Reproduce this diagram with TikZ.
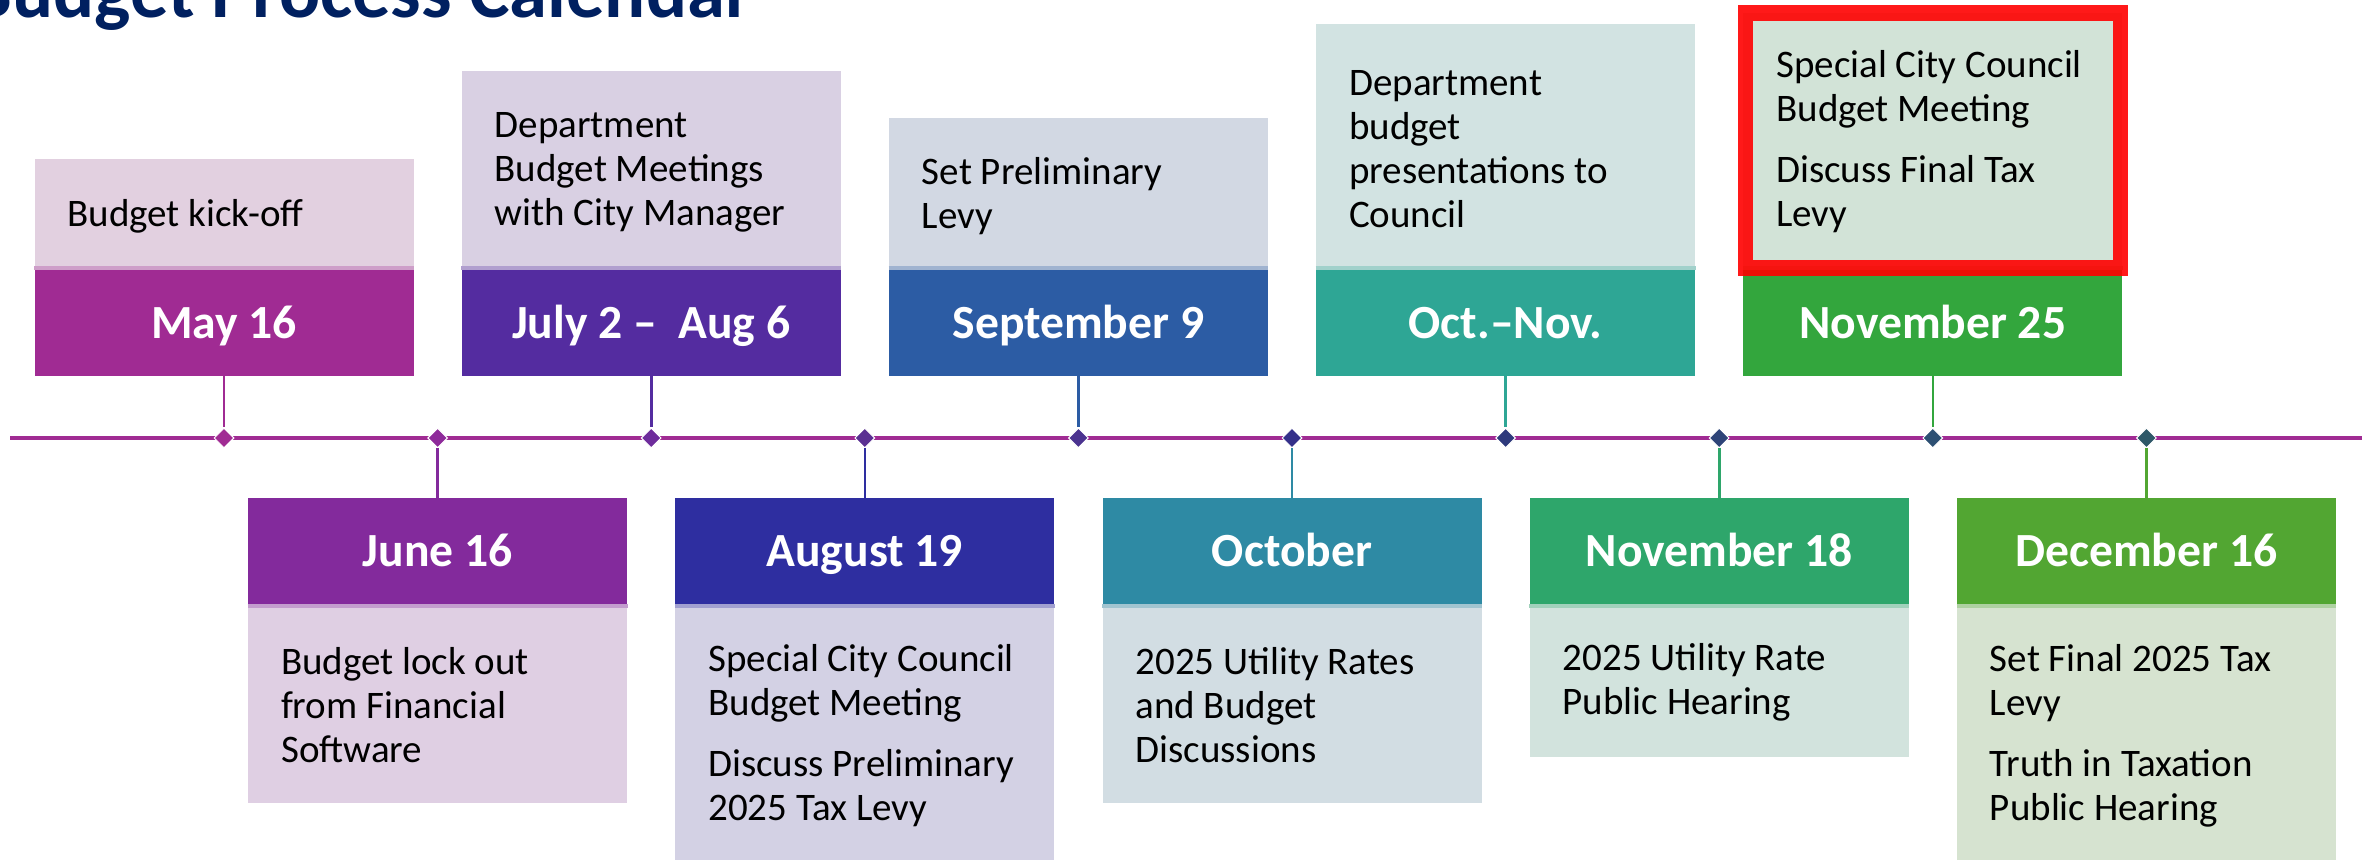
\documentclass[tikz,border=0pt]{standalone}
\usepackage{fontspec}
\setmainfont{Carlito}
\usetikzlibrary{shapes.geometric}
\definecolor{titleblue}{HTML}{002060}
\definecolor{tline}{HTML}{A02B93}
\definecolor{hlred}{HTML}{FF0000}
% dark parts
\definecolor{dA}{HTML}{A02B93}
\definecolor{dB}{HTML}{832A9C}
\definecolor{dC}{HTML}{542CA0}
\definecolor{dD}{HTML}{2E2EA0}
\definecolor{dE}{HTML}{2C5CA4}
\definecolor{dF}{HTML}{2E8AA4}
\definecolor{dG}{HTML}{2EA695}
\definecolor{dH}{HTML}{2EA66B}
\definecolor{dI}{HTML}{33A63D}
\definecolor{dJ}{HTML}{52A632}
% light parts
\definecolor{lA}{HTML}{E2D0E0}
\definecolor{lB}{HTML}{DFCFE3}
\definecolor{lC}{HTML}{D9D0E3}
\definecolor{lD}{HTML}{D3D1E4}
\definecolor{lE}{HTML}{D2D8E3}
\definecolor{lF}{HTML}{D2DDE3}
\definecolor{lG}{HTML}{D2E3E2}
\definecolor{lH}{HTML}{D2E3DD}
\definecolor{lI}{HTML}{D2E3D7}
\definecolor{lJ}{HTML}{D6E3D0}
% diamonds
\definecolor{mA}{HTML}{A02B93}
\definecolor{mB}{HTML}{8E2A9A}
\definecolor{mC}{HTML}{6E2C9C}
\definecolor{mD}{HTML}{5A3092}
\definecolor{mE}{HTML}{4B3390}
\definecolor{mF}{HTML}{34308A}
\definecolor{mG}{HTML}{2E3A7C}
\definecolor{mH}{HTML}{2E4478}
\definecolor{mI}{HTML}{2D5073}
\definecolor{mJ}{HTML}{2E5868}
\begin{document}
\begin{tikzpicture}[x=0.5pt,y=-0.5pt,
  datebox/.style={rectangle, inner sep=0pt, minimum width=189.5pt, minimum height=53pt,
    text height=15.3pt, text depth=0pt,
    text=white, font=\fontsize{23.8}{27}\selectfont\bfseries},
  lightbox/.style={rectangle, inner sep=0pt, minimum width=189.5pt},
  infotext/.style={anchor=west, inner sep=0pt, align=left, text=black,
    font=\fontsize{19.5}{22}\selectfont},
  dia/.style={shape=diamond, inner sep=0pt, minimum width=10pt, minimum height=10pt,
    draw=white, line width=0.5pt},
  conn/.style={line width=1.3pt},
  timeline/.style={line width=2.15pt, color=tline},
  strip/.style={line width=2pt},
  highlight/.style={draw=hlred, draw opacity=0.9, line width=7.8pt, rectangle, inner sep=0pt,
    minimum width=187.5pt, minimum height=127.5pt}
]
\useasboundingbox (0,0) rectangle (2376,860);
\clip (0,0) rectangle (2376,860);

% title
\node[anchor=base west, inner sep=0pt, text=titleblue,
  font=\fontsize{38.3}{41}\selectfont\bfseries] (title) at (-31,18) {Budget Process Calendar};

% timeline
\coordinate (tlL) at (10,438);
\coordinate (tlR) at (2362,438);
\draw[timeline] (tlL) -- (tlR);

% ---------- top boxes ----------
\node[lightbox, fill=lA, minimum height=55.5pt] (l0) at (224,214.5) {};
\node[infotext] (t0) at ([xshift=16.5pt,yshift=-1pt]l0.west) {Budget kick-off};
\node[datebox, fill=dA] (d0) at (224,323) {May 16};

\node[lightbox, fill=lC, minimum height=99.5pt] (l2) at (651.2,170.5) {};
\node[infotext] (t2) at ([xshift=16.5pt,yshift=-1pt]l2.west) {Department\\Budget Meetings\\with City Manager};
\node[datebox, fill=dC] (d2) at (651.2,323) {July 2 –\ \ Aug 6};

\node[lightbox, fill=lE, minimum height=76pt] (l4) at (1078.4,194) {};
\node[infotext] (t4) at ([xshift=16.5pt,yshift=-1pt]l4.west) {Set Preliminary\\Levy};
\node[datebox, fill=dE] (d4) at (1078.4,323) {September 9};

\node[lightbox, fill=lG, minimum height=123pt] (l6) at (1505.6,147) {};
\node[infotext] (t6) at ([xshift=16.5pt,yshift=-1pt]l6.west) {Department\\budget\\presentations to\\Council};
\node[datebox, fill=dG] (d6) at (1505.6,323) {Oct.–Nov.};

\node[lightbox, fill=lI, minimum height=128.5pt] (l8) at (1932.8,141.5) {};
\node[infotext] (t8) at ([xshift=16.5pt]l8.west)
  {Special City Council\\Budget Meeting\\[8.5pt]Discuss Final Tax\\Levy};
\node[datebox, fill=dI] (d8) at (1932.8,323) {November 25};

% ---------- bottom boxes ----------
\node[datebox, fill=dB] (d1) at (437.6,551) {June 16};
\node[lightbox, fill=lB, minimum height=99.5pt] (l1) at (437.6,703.5) {};
\node[infotext] (t1) at ([xshift=16.5pt,yshift=-1pt]l1.west) {Budget lock out\\from Financial\\Software};

\node[datebox, fill=dD] (d3) at (864.8,551) {August 19};
\node[lightbox, fill=lD, minimum height=130pt] (l3) at (864.8,734) {};
\node[infotext] (t3) at ([xshift=16.5pt,yshift=-1pt]l3.west)
  {Special City Council\\Budget Meeting\\[8.5pt]Discuss Preliminary\\2025 Tax Levy};

\node[datebox, fill=dF] (d5) at (1292,551) {October};
\node[lightbox, fill=lF, minimum height=99.5pt] (l5) at (1292,703.5) {};
\node[infotext] (t5) at ([xshift=16.5pt,yshift=-1pt]l5.west) {2025 Utility Rates\\and Budget\\Discussions};

\node[datebox, fill=dH] (d7) at (1719.2,551) {November 18};
\node[lightbox, fill=lH, minimum height=76.5pt] (l7) at (1719.2,680.5) {};
\node[infotext] (t7) at ([xshift=16.5pt,yshift=-1pt]l7.west) {2025 Utility Rate\\Public Hearing};

\node[datebox, fill=dJ] (d9) at (2146.4,551) {December 16};
\node[lightbox, fill=lJ, minimum height=130pt] (l9) at (2146.4,734) {};
\node[infotext] (t9) at ([xshift=16.5pt,yshift=-1pt]l9.west)
  {Set Final 2025 Tax\\Levy\\[8.5pt]Truth in Taxation\\Public Hearing};

% boundary strips
\foreach \n/\c in {0/A,2/C,4/E,6/G,8/I}{
  \draw[strip, color=l\c!70!d\c] ([yshift=1pt]l\n.south west) -- ([yshift=1pt]l\n.south east);
}
\foreach \n/\c in {1/B,3/D,5/F,7/H,9/J}{
  \draw[strip, color=l\c!70!d\c] ([yshift=-1pt]l\n.north west) -- ([yshift=-1pt]l\n.north east);
}

% diamonds
\node[dia, fill=mA] (m0) at (224,438) {};
\node[dia, fill=mB] (m1) at (437.6,438) {};
\node[dia, fill=mC] (m2) at (651.2,438) {};
\node[dia, fill=mD] (m3) at (864.8,438) {};
\node[dia, fill=mE] (m4) at (1078.4,438) {};
\node[dia, fill=mF] (m5) at (1292,438) {};
\node[dia, fill=mG] (m6) at (1505.6,438) {};
\node[dia, fill=mH] (m7) at (1719.2,438) {};
\node[dia, fill=mI] (m8) at (1932.8,438) {};
\node[dia, fill=mJ] (m9) at (2146.4,438) {};

% connectors
\draw[conn, color=dA] (d0.south) -- (m0.north);
\draw[conn, color=dC] (d2.south) -- (m2.north);
\draw[conn, color=dE] (d4.south) -- (m4.north);
\draw[conn, color=dG] (d6.south) -- (m6.north);
\draw[conn, color=dI] (d8.south) -- (m8.north);
\draw[conn, color=dB] (m1.south) -- (d1.north);
\draw[conn, color=dD] (m3.south) -- (d3.north);
\draw[conn, color=dF] (m5.south) -- (d5.north);
\draw[conn, color=dH] (m7.south) -- (d7.north);
\draw[conn, color=dJ] (m9.south) -- (d9.north);

% highlight
\node[highlight] (hl) at (1933,140.5) {};
\end{tikzpicture}
\end{document}
